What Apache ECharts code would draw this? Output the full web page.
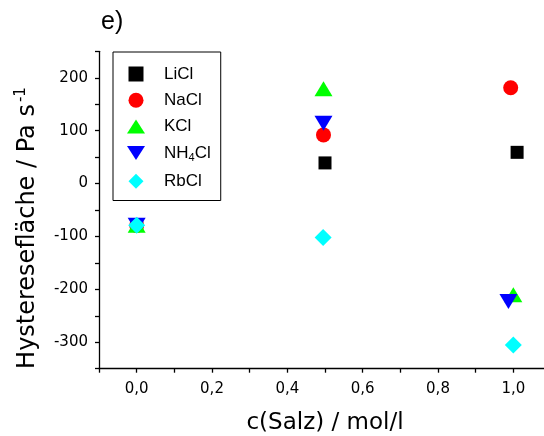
<!DOCTYPE html>
<html>
<head>
<meta charset="utf-8">
<script src="https://cdn.jsdelivr.net/npm/echarts@6/dist/echarts.min.js"></script>
<style>html,body{margin:0;padding:0;background:#fff}#c{width:544px;height:436px}</style>
</head>
<body>
<div id="c"></div>
<script>
var seriesNames = ['LiCl', 'NaCl', 'KCl', 'NH4Cl', 'RbCl'];
var liclX = [0, 0.5, 1.01];
var liclY = [-79, 39, 59];
var naclX = [0, 0.496, 0.993];
var naclY = [-79, 92, 181];
var kclX = [0, 0.496, 1.0];
var kclY = [-79, 179, -210];
var nh4clX = [0, 0.496, 0.987];
var nh4clY = [-79, 114, -223];
var rbclX = [0, 0.495, 1.0];
var rbclY = [-79, -102, -305];
var xTickLabels = ['0,0', '0,2', '0,4', '0,6', '0,8', '1,0'];
var yTickLabels = ['-300', '-200', '-100', '0', '100', '200'];

function pairs(xs, ys) { return xs.map(function (x, i) { return [x, ys[i]]; }); }

var fontA = 'Liberation Sans, Arial, sans-serif';
var fontD = 'DejaVu Sans, sans-serif';
var icons = {
  'LiCl': 'path://M0,0H14V14H0Z',
  'NaCl': 'circle',
  'KCl': 'path://M0,14L9,0L18,14Z',
  'NH4Cl': 'path://M0,0L18,0L9,14Z',
  'RbCl': 'path://M8,0L16,8L8,16L0,8Z'
};
var chart = echarts.init(document.getElementById('c'), null, { renderer: 'canvas' });
chart.setOption({
  animation: false,
  backgroundColor: '#fff',
  title: {
    text: 'e)', left: 96, top: 5,
    textStyle: { fontFamily: fontA, fontSize: 25, fontWeight: 'normal', color: '#000' }
  },
  grid: { left: 99, right: -7, top: 51.3, bottom: 67.3, outerBoundsMode: 'none', containLabel: false },
  legend: {
    orient: 'vertical', left: 113, top: 52,
    padding: [13.5, 10, 10.8, 14],
    borderColor: '#000', borderWidth: 1,
    itemWidth: 18, itemHeight: 15, itemGap: 9.3,
    data: seriesNames.map(function (n) { return { name: n, icon: icons[n] }; }),
    formatter: function (n) { return n === 'NH4Cl' ? '{n|NH}{s|4}{n|Cl}' : '{n|' + n + '}'; },
    textStyle: {
      fontFamily: fontA, fontSize: 17, color: '#000', padding: [0, 0, 0, 14], lineHeight: 15,
      rich: {
        n: { fontFamily: fontA, fontSize: 17, color: '#000', lineHeight: 15 },
        s: { fontFamily: fontA, fontSize: 11, color: '#000', verticalAlign: 'top', lineHeight: 15, padding: [7, 0, 0, 0] }
      }
    }
  },
  xAxis: {
    type: 'value', min: -0.1, max: 1.1, interval: 0.1,
    name: 'c(Salz) / mol/l', nameLocation: 'middle', nameGap: 43,
    nameTextStyle: { fontFamily: fontD, fontSize: 23, color: '#000' },
    axisLine: { onZero: false, lineStyle: { color: '#000', width: 1.3 } },
    axisTick: { length: 4, lineStyle: { color: '#000', width: 1.3 } },
    axisLabel: {
      fontFamily: fontD, fontSize: 15, color: '#000', margin: 13,
      formatter: function (v) {
        var k = Math.round(v * 10);
        if (k < 0 || k % 2 !== 0) return '';
        return xTickLabels[k / 2] || '';
      }
    },
    splitLine: { show: false }
  },
  yAxis: {
    type: 'value', min: -350, max: 250, interval: 50,
    name: 'Hysteresefläche / Pa s{sup|-1}', nameLocation: 'middle', nameGap: 57, nameRotate: 90,
    nameTextStyle: {
      fontFamily: fontD, fontSize: 24, color: '#000', padding: [0, 36, 0, 0],
      rich: { sup: { fontFamily: fontD, fontSize: 15, color: '#000', verticalAlign: 'top', padding: [0, 0, 13, 2] } }
    },
    axisLine: { onZero: false, lineStyle: { color: '#000', width: 1.3 } },
    axisTick: { length: 4, lineStyle: { color: '#000', width: 1.3 } },
    axisLabel: {
      fontFamily: fontD, fontSize: 15, color: '#000', margin: 11,
      formatter: function (v) {
        if (v % 100 !== 0) return '';
        var i = (v + 300) / 100;
        return yTickLabels[i] || '';
      }
    },
    splitLine: { show: false }
  },
  series: [
    { name: 'LiCl', type: 'scatter', symbol: 'rect', symbolSize: 13, itemStyle: { color: '#000000', opacity: 1 }, data: pairs(liclX, liclY) },
    { name: 'NaCl', type: 'scatter', symbol: 'circle', symbolSize: 15, itemStyle: { color: '#ff0000', opacity: 1 }, data: pairs(naclX, naclY) },
    { name: 'KCl', type: 'scatter', symbol: 'triangle', symbolSize: [18, 15], itemStyle: { color: '#00ff00', opacity: 1 }, data: pairs(kclX, kclY) },
    { name: 'NH4Cl', type: 'scatter', symbol: 'triangle', symbolRotate: 180, symbolSize: [18, 15], itemStyle: { color: '#0000ff', opacity: 1 }, data: pairs(nh4clX, nh4clY) },
    { name: 'RbCl', type: 'scatter', symbol: 'diamond', symbolSize: 17, itemStyle: { color: '#00ffff', opacity: 1 }, data: pairs(rbclX, rbclY) }
  ]
});
</script>
</body>
</html>
